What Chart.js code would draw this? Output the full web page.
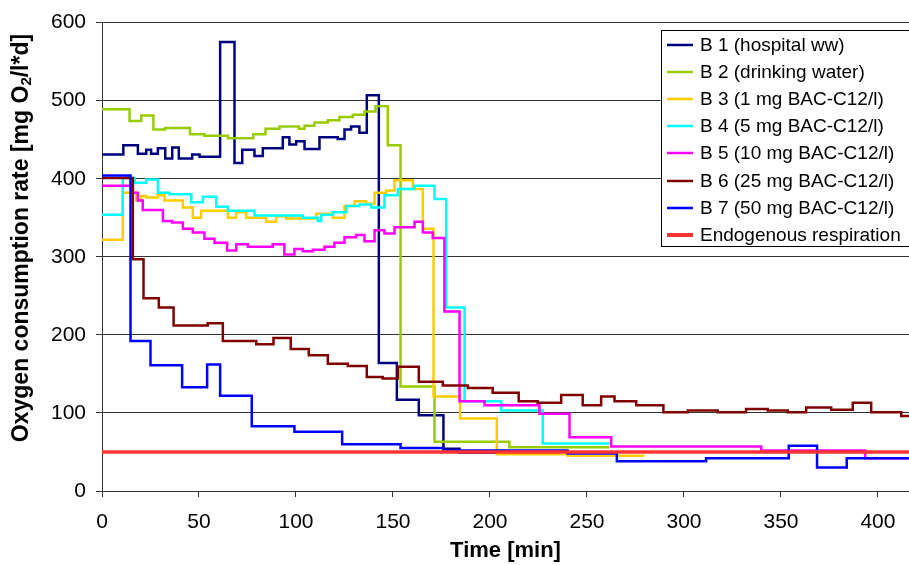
<!DOCTYPE html>
<html>
<head>
<meta charset="utf-8">
<script src="https://cdn.jsdelivr.net/npm/chart.js@4.4.1/dist/chart.umd.min.js"></script>
<style>
  html, body { margin: 0; padding: 0; background: #fff; }
  #wrap { width: 909px; height: 565px; }
</style>
</head>
<body>
<div id="wrap"><canvas id="chart" width="909" height="565"></canvas></div>
<script>
// each series: time [min] where a level starts, last entry closes the final step
const b1Time = [0, 11, 18.5, 22.8, 25.3, 28.8, 32.6, 36.2, 39.6, 46.5, 50.3, 60.9, 68.3, 72.3, 78.6, 82.9, 93.2, 96.6, 100.1, 104.4, 112.1, 121.5, 125, 128.4, 132.7, 136.5, 142.7, 152, 163.3, 176, 184.3, 205];
const b1Rate = [431, 443, 432, 437, 432, 439, 426, 440, 426, 431, 428, 575, 420, 437, 429, 439, 453, 444, 448, 438, 453, 451, 463, 467, 459, 507, 164, 117, 97, 54, 49, 49];

const b2Time = [0, 14.2, 20.2, 26.5, 32.5, 45.4, 52.8, 64.9, 78, 84.3, 91.5, 101.5, 104.4, 109.5, 116.4, 122.4, 129.3, 135.3, 141, 147.3, 153.9, 171.4, 210, 261.6];
const b2Rate = [489, 474, 481, 463, 465, 457, 455, 452, 457, 464, 467, 464, 468, 472, 475, 479, 482, 486, 493, 443, 134, 63, 56, 56];

const b3Time = [0, 10.7, 17.6, 20.2, 22.8, 28.8, 32.2, 41.7, 46.8, 51.1, 64.9, 69.2, 74.3, 84.6, 89.8, 94.9, 110.4, 119, 125, 130.2, 136.2, 140.5, 146.5, 150.8, 160.2, 165.4, 170.9, 184.6, 203.5, 240, 279.6];
const b3Rate = [322, 382, 372, 378, 376, 379, 372, 363, 350, 359, 350, 357, 350, 345, 352, 349, 355, 350, 365, 371, 368, 382, 385, 398, 387, 336, 121, 93, 47, 45, 45];

const b4Time = [0, 10.7, 16.8, 22.8, 28.8, 34.8, 46, 52, 58.9, 64.9, 78.6, 103.5, 111.2, 113, 119, 125.9, 132.7, 138.8, 145.6, 152.5, 161.1, 171.4, 177.4, 186.9, 205.8, 227.2, 261.6];
const b4Rate = [354, 401, 395, 399, 382, 380, 370, 377, 364, 359, 353, 350, 346, 354, 357, 365, 367, 363, 379, 387, 391, 374, 235, 115, 103, 61, 61];

const b5Time = [0, 15.9, 18.5, 21, 31.4, 36.2, 41.7, 46.8, 52.8, 58, 64.5, 69.2, 75.2, 88, 94, 99.2, 103.5, 108.7, 114.7, 119.8, 125, 131, 135.3, 140.5, 145.6, 150.8, 161.1, 165.4, 170.5, 176.5, 184.3, 197.2, 225.5, 241, 262.5, 339.8, 393.4, 416];
const b5Rate = [391, 382, 372, 360, 346, 344, 336, 331, 323, 318, 308, 316, 313, 316, 303, 310, 307, 309, 313, 318, 325, 328, 320, 334, 330, 338, 345, 331, 324, 230, 115, 110, 99, 69, 57, 52, 42, 42];

const b6Time = [0, 15.9, 21.4, 29.3, 36.9, 54.5, 62.3, 79.5, 88.4, 97.3, 106.6, 116.4, 126.7, 136.5, 144.7, 152.5, 163.3, 175.7, 188.6, 201.4, 214.8, 224.6, 236.7, 247.8, 257.3, 264.2, 275.4, 289.4, 302, 317.4, 332, 343.2, 353.5, 363, 375.9, 387, 396.5, 412, 416];
const b6Rate = [401, 297, 247, 235, 212, 215, 192, 188, 196, 182, 174, 163, 160, 146, 144, 159, 140, 135, 132, 126, 115, 113, 123, 110, 121, 115, 110, 101, 103, 101, 105, 103, 101, 107, 104, 113, 101, 96, 96];

const b7Time = [0, 14.7, 25, 41.3, 54.2, 60.9, 77.2, 99.2, 123.8, 153.9, 176, 240, 265.4, 311.4, 354, 368.6, 383.9, 416];
const b7Rate = [404, 192, 161, 133, 162, 122, 83, 76, 60, 55, 52, 48, 38, 42, 58, 30, 42, 42];

const endoTime = [0, 416];
const endoRate = [50, 50];

const seriesNames = [
  'B 1 (hospital ww)',
  'B 2 (drinking water)',
  'B 3 (1 mg BAC-C12/l)',
  'B 4 (5 mg BAC-C12/l)',
  'B 5 (10 mg BAC-C12/l)',
  'B 6 (25 mg BAC-C12/l)',
  'B 7 (50 mg BAC-C12/l)',
  'Endogenous respiration'
];
const xTicks = [0, 50, 100, 150, 200, 250, 300, 350, 400];
const yTicks = [0, 100, 200, 300, 400, 500, 600];
const xTitle = 'Time [min]';
const yTitleParts = ['Oxygen consumption rate [mg O', '2', '/l*d]'];

const seriesColors = ['#000080', '#99cc00', '#ffcc00', '#00ffff', '#ff00ff', '#800000', '#0000ff', '#ff3333'];
const FONT = '"Liberation Sans", Arial, sans-serif';

const allSeries = [
  [b1Time, b1Rate], [b2Time, b2Rate], [b3Time, b3Rate], [b4Time, b4Rate],
  [b5Time, b5Rate], [b6Time, b6Rate], [b7Time, b7Rate], [endoTime, endoRate]
];

const toPoints = (times, rates) => times.map((t, i) => ({ x: t, y: rates[i] }));

const datasets = allSeries.map(([t, r], i) => ({
  label: seriesNames[i],
  data: toPoints(t, r),
  borderColor: seriesColors[i],
  borderWidth: i === 7 ? 3.5 : 2.5,
  pointRadius: 0,
  stepped: true,
  fill: false,
  order: allSeries.length - i  // later series drawn on top, like the original
}));

// y axis title with a real subscript
const yTitlePlugin = {
  id: 'yTitle',
  afterDraw(chart) {
    const ctx = chart.ctx;
    const big = 'bold 23px ' + FONT;
    const small = 'bold 15px ' + FONT;
    const parts = [
      { t: yTitleParts[0], f: big, dy: 0 },
      { t: yTitleParts[1], f: small, dy: 5 },
      { t: yTitleParts[2], f: big, dy: 0 }
    ];
    ctx.save();
    let total = 0;
    parts.forEach(p => { ctx.font = p.f; p.w = ctx.measureText(p.t).width; total += p.w; });
    ctx.translate(22, 238);
    ctx.rotate(-Math.PI / 2);
    ctx.fillStyle = '#000';
    ctx.textBaseline = 'middle';
    let x = -total / 2;
    parts.forEach(p => { ctx.font = p.f; ctx.fillText(p.t, x, p.dy); x += p.w; });
    ctx.restore();
  }
};

// boxed legend sitting inside the plot, top right
const boxLegend = {
  id: 'boxLegend',
  afterDraw(chart) {
    const ctx = chart.ctx;
    ctx.save();
    ctx.fillStyle = '#fff';
    ctx.fillRect(661, 30, 260, 217);
    ctx.strokeStyle = '#000';
    ctx.lineWidth = 1;
    ctx.strokeRect(661.5, 30.5, 260, 216);
    ctx.font = '19px ' + FONT;
    ctx.textBaseline = 'middle';
    ctx.fillStyle = '#000';
    chart.data.datasets.forEach((ds, i) => {
      const y = Math.round(45 + i * 27.1);
      ctx.strokeStyle = ds.borderColor;
      ctx.lineWidth = i === 7 ? 4 : 2.5;
      ctx.beginPath();
      ctx.moveTo(667, y);
      ctx.lineTo(693, y);
      ctx.stroke();
      ctx.fillText(ds.label, 700, y + 1);
    });
    ctx.restore();
  }
};

new Chart(document.getElementById('chart'), {
  type: 'line',
  data: { datasets },
  plugins: [yTitlePlugin, boxLegend],
  options: {
    responsive: false,
    animation: false,
    devicePixelRatio: 1,
    layout: { padding: { top: 21, right: 0, bottom: 0, left: 0 } },
    plugins: {
      legend: { display: false },
      tooltip: { enabled: false }
    },
    scales: {
      x: {
        type: 'linear',
        min: 0,
        max: 416,
        afterFit: s => { s.height = 74; },
        afterBuildTicks: s => { s.ticks = xTicks.map(v => ({ value: v })); },
        ticks: { stepSize: 50, includeBounds: false, color: '#000', padding: 13, font: { size: 21, family: FONT } },
        grid: { drawOnChartArea: false, tickLength: 6, color: '#333' },
        border: { color: '#333', width: 1 },
        title: {
          display: true,
          text: xTitle,
          color: '#000',
          font: { size: 22, weight: 'bold', family: FONT, lineHeight: 1 },
          padding: { top: 0, bottom: 3 }
        }
      },
      y: {
        min: 0,
        max: 600,
        afterFit: s => { s.width = 102; },
        afterBuildTicks: s => { s.ticks = yTicks.map(v => ({ value: v })); },
        ticks: { stepSize: 100, color: '#000', padding: 10, font: { size: 21, family: FONT } },
        grid: { color: '#333', tickLength: 6 },
        border: { color: '#333', width: 1 }
      }
    }
  }
});
</script>
</body>
</html>
